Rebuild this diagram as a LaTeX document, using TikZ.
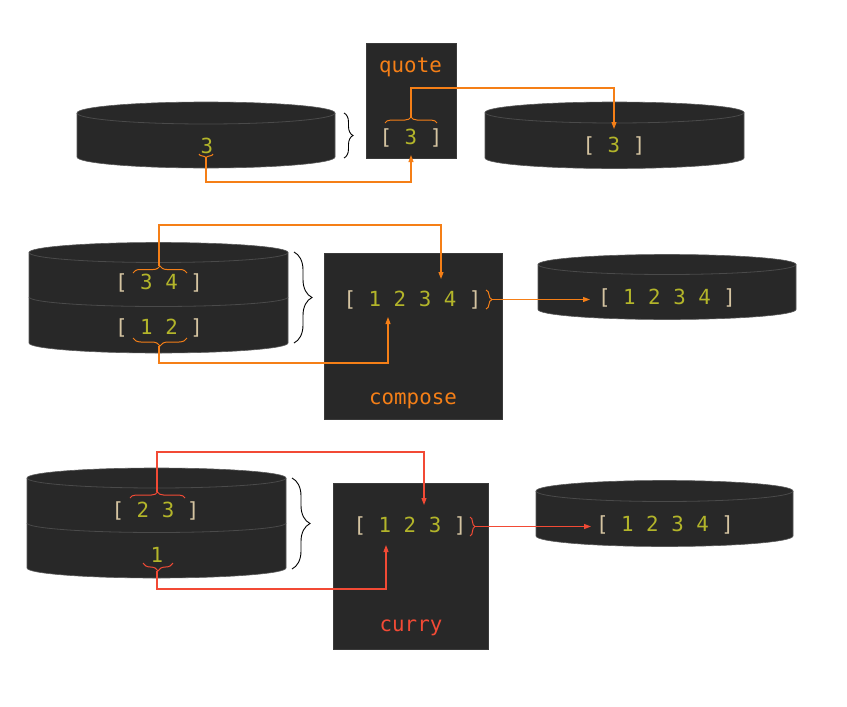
\documentclass[tikz,border=0pt]{standalone}
\usepackage{fontspec}
\setmonofont{DejaVu Sans Mono}
\usetikzlibrary{decorations.pathreplacing,arrows.meta}
\definecolor{bg}{HTML}{282828}
\definecolor{boxedge}{HTML}{3A3A3A}
\definecolor{cyledge}{HTML}{5A5A5A}
\definecolor{cylline}{HTML}{4A4A4A}
\definecolor{brk}{HTML}{D5C4A1}
\definecolor{num}{HTML}{B3B52A}
\definecolor{org}{HTML}{F57F17}
\definecolor{rd}{HTML}{F24A35}
\newcommand\Bk[1]{\textcolor{brk}{#1}}
\newcommand\Nm[1]{\textcolor{num}{#1}}
\newcommand\mycyl[5]{%
  \pgfmathsetmacro\myrx{(#2-#1)/2}%
  \filldraw[fill=bg,draw=cyledge,line width=0.6pt] (#1,#3) -- (#1,#4)
    arc[start angle=180,end angle=360,x radius=\myrx pt,y radius=#5pt] -- (#2,#3)
    arc[start angle=0,end angle=180,x radius=\myrx pt,y radius=#5pt] -- cycle;
  \draw[cylline,line width=0.8pt] (#1,#3)
    arc[start angle=180,end angle=360,x radius=\myrx pt,y radius=#5pt];}
\newcommand\mymid[4]{%
  \pgfmathsetmacro\myrx{(#2-#1)/2}%
  \draw[cylline,line width=0.8pt] (#1,#3)
    arc[start angle=180,end angle=360,x radius=\myrx pt,y radius=#4pt];}
\tikzset{
  box/.style={fill=bg,draw=boxedge,line width=0.6pt,anchor=north west,inner sep=0pt},
  txt/.style={inner sep=0pt,anchor=base,font=\fontsize{20.8}{24}\selectfont\ttfamily},
  blackbrace/.style={draw=black,line width=0.9pt,decorate,decoration={brace,amplitude=#1}},
  obrace/.style={draw=org,line width=1pt,decorate,decoration={brace,amplitude=#1}},
  rbrace/.style={draw=rd,line width=1pt,decorate,decoration={brace,amplitude=#1}},
  oline/.style={draw=org,line width=1.1pt,-{Triangle[length=7pt,width=5pt]}},
  rline/.style={draw=rd,line width=1.1pt,-{Triangle[length=7pt,width=5pt]}}
}
\begin{document}
\begin{tikzpicture}[x=1pt,y=-1pt]
\useasboundingbox[fill=white] (0,0) rectangle (847,707);
% ---------- row 1 ----------
\mycyl{77}{335}{113}{157}{11}
\mycyl{485}{744}{112.5}{158}{10.5}
\node[box,minimum width=90pt,minimum height=115pt] (qbox) at (366,43) {};
\node[txt,text=org] (quote) at (410.5,72) {quote};
\node[txt] (a3) at (207,153) {\Nm{3}};
\node[txt] (q3) at (411,144) {\Bk{[} \Nm{3} \Bk{]}};
\node[txt] (r3) at (614,152) {\Bk{[} \Nm{3} \Bk{]}};
\draw[blackbrace=9pt] (344,113) -- (344,158);
\draw[obrace=4pt] (213,154) -- (199,154);
\draw[obrace=6pt] (385,123) -- (437,123);
\coordinate (c1s) at (206,158);
\coordinate (c1e) at (411,155);
\coordinate (c2s) at (411,117);
\coordinate (c2e) at (614,129);
\draw[oline] (c1s) -- ++(0,24) -| (c1e);
\draw[oline] (c2s) -- ++(0,-29) -| (c2e);
% ---------- row 2 ----------
\mycyl{29}{288}{252.5}{343}{10}
\mymid{29}{288}{297}{9.5}
\mycyl{538}{796}{264.5}{309.5}{10}
\node[box,minimum width=178pt,minimum height=166pt] (cbox) at (324,253) {};
\node[txt,text=org] (compose) at (413,404) {compose};
\node[txt] (l34) at (159,289) {\Bk{[} \Nm{3} \Nm{4} \Bk{]}};
\node[txt] (l12) at (159,334) {\Bk{[} \Nm{1} \Nm{2} \Bk{]}};
\node[txt] (c1234) at (412.5,306) {\Bk{[} \Nm{1} \Nm{2} \Nm{3} \Nm{4} \Bk{]}};
\node[txt] (r1234) at (667,304) {\Bk{[} \Nm{1} \Nm{2} \Nm{3} \Nm{4} \Bk{]}};
\draw[blackbrace=18pt] (294,252) -- (294,343);
\draw[obrace=7pt] (133,273) -- (187,273);
\draw[obrace=8pt] (187,338) -- (133,338);
\draw[obrace=6pt] (486,290) -- (486,309);
\coordinate (c3s) at (159,266);
\coordinate (c3e) at (441,279);
\coordinate (c4s) at (159,346);
\coordinate (c4e) at (388,317);
\coordinate (c5s) at (492,299.5);
\coordinate (c5e) at (590,299.5);
\draw[oline] (c3s) -- ++(0,-41) -| (c3e);
\draw[oline] (c4s) -- ++(0,17) -| (c4e);
\draw[oline] (c5s) -- (c5e);
% ---------- row 3 ----------
\mycyl{27}{286}{478}{568}{10}
\mymid{27}{286}{523}{9.5}
\mycyl{536}{793}{491}{536}{10.5}
\node[box,minimum width=155pt,minimum height=166pt] (ybox) at (333,483) {};
\node[txt,text=rd] (curry) at (411,631) {curry};
\node[txt] (l23) at (155.5,517) {\Bk{[} \Nm{2} \Nm{3} \Bk{]}};
\node[txt] (l1) at (157,562) {\Nm{1}};
\node[txt] (y123) at (410,532) {\Bk{[} \Nm{1} \Nm{2} \Nm{3} \Bk{]}};
\node[txt] (s1234) at (665,531) {\Bk{[} \Nm{1} \Nm{2} \Nm{3} \Nm{4} \Bk{]}};
\draw[blackbrace=18pt] (292,478) -- (292,569);
\draw[rbrace=6pt] (130,498) -- (185,498);
\draw[rbrace=8pt] (173,563) -- (143,563);
\draw[rbrace=5pt] (470,517) -- (470,536);
\coordinate (c6s) at (157,492);
\coordinate (c6e) at (424,505);
\coordinate (c7s) at (157,571);
\coordinate (c7e) at (386,545);
\coordinate (c8s) at (475,526.5);
\coordinate (c8e) at (591,526.5);
\draw[rline] (c6s) -- ++(0,-40) -| (c6e);
\draw[rline] (c7s) -- ++(0,18) -| (c7e);
\draw[rline] (c8s) -- (c8e);
\end{tikzpicture}
\end{document}
